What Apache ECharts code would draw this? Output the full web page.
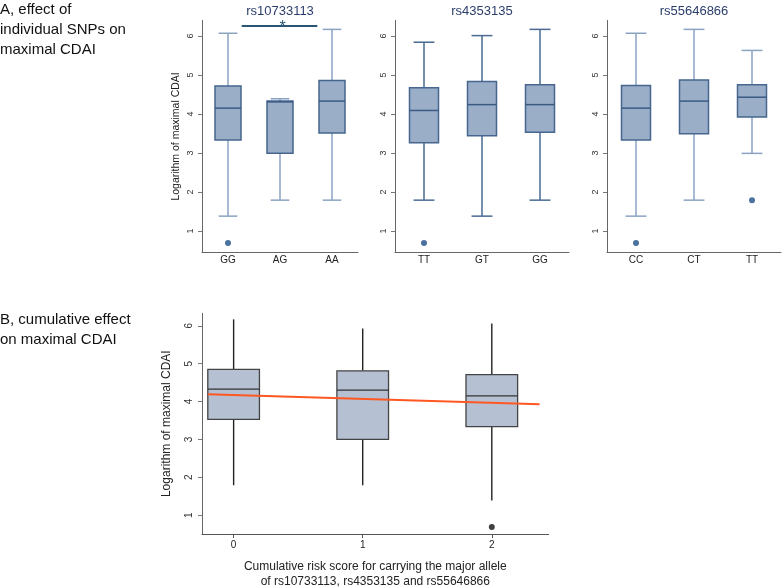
<!DOCTYPE html>
<html><head><meta charset="utf-8">
<script src="https://cdn.jsdelivr.net/npm/echarts@6/dist/echarts.min.js"></script>
<style>html,body{margin:0;padding:0;background:#fff}#c{width:784px;height:587px}</style>
</head><body><div id="c"></div>
<script>
// Panel A data: each box = [low whisker, Q1, median, Q3, high whisker]
const snp1Name = 'rs10733113';
const snp1Cats = ['GG', 'AG', 'AA'];
const snp1Box = [[1.38, 3.33, 4.15, 4.72, 6.07], [1.79, 2.99, 4.31, 4.33, 4.39], [1.79, 3.51, 4.33, 4.86, 6.17]];
const snp1Out = [[0, 0.69]];
const snp2Name = 'rs4353135';
const snp2Cats = ['TT', 'GT', 'GG'];
const snp2Box = [[1.79, 3.26, 4.09, 4.67, 5.84], [1.38, 3.44, 4.24, 4.83, 6.01], [1.79, 3.53, 4.24, 4.75, 6.17]];
const snp2Out = [[0, 0.69]];
const snp3Name = 'rs55646866';
const snp3Cats = ['CC', 'CT', 'TT'];
const snp3Box = [[1.38, 3.33, 4.15, 4.73, 6.07], [1.79, 3.49, 4.33, 4.87, 6.17], [2.99, 3.92, 4.43, 4.75, 5.63]];
const snp3Out = [[0, 0.69], [2, 1.79]];
// Panel B data
const scoreVals = [0, 1, 2];
const scoreBox = [[1.79, 3.53, 4.33, 4.85, 6.17], [1.79, 3.00, 4.30, 4.81, 5.93], [1.39, 3.34, 4.15, 4.71, 6.06]];
const scoreOut = [[2, 0.69]];
const fitLine = [[-0.2, 4.19], [2.37, 3.93]];
const yTicks = [1, 2, 3, 4, 5, 6];
const xTicksB = [0, 1, 2];

const FONT = 'Liberation Sans, Arial, sans-serif';

function boxSeries(gi, xs, rows, st) {
  return {
    type: 'custom', xAxisIndex: gi, yAxisIndex: gi, silent: true, z: 3,
    data: rows.map((r, i) => [xs[i]].concat(r)),
    encode: { x: 0, y: [1, 2, 3, 4, 5] },
    renderItem: function (params, api) {
      const x = api.value(0);
      const p = k => api.coord([x, api.value(k)]);
      const lo = p(1), q1 = p(2), md = p(3), q3 = p(4), hi = p(5);
      const band = api.size([1, 0], [x, api.value(3)])[0];
      const bw = band * st.boxFrac, cw = band * st.capFrac;
      const cx = md[0];
      const wl = { stroke: st.whisker, lineWidth: st.whiskerW };
      const ch = [
        { type: 'line', shape: { x1: cx, y1: q1[1], x2: cx, y2: lo[1] }, style: wl },
        { type: 'line', shape: { x1: cx, y1: q3[1], x2: cx, y2: hi[1] }, style: wl }
      ];
      if (cw > 0) {
        ch.push({ type: 'line', shape: { x1: cx - cw / 2, y1: lo[1], x2: cx + cw / 2, y2: lo[1] }, style: wl });
        ch.push({ type: 'line', shape: { x1: cx - cw / 2, y1: hi[1], x2: cx + cw / 2, y2: hi[1] }, style: wl });
      }
      ch.push({ type: 'rect', shape: { x: cx - bw / 2, y: q3[1], width: bw, height: q1[1] - q3[1] },
        style: { fill: st.fill, stroke: st.border, lineWidth: st.borderW } });
      ch.push({ type: 'line', shape: { x1: cx - bw / 2, y1: md[1], x2: cx + bw / 2, y2: md[1] },
        style: { stroke: st.median, lineWidth: st.medianW } });
      return { type: 'group', children: ch };
    }
  };
}

const stLight = { boxFrac: 0.5, capFrac: 0.36, fill: '#9aaec7', border: '#46668f', borderW: 1.5,
  median: '#3a5a84', medianW: 1.5, whisker: '#8ba3c2', whiskerW: 1.5 };
const stDark = Object.assign({}, stLight, { whisker: '#4a6a93' });
const stB = { boxFrac: 0.4, capFrac: 0, fill: '#b5c0d3', border: '#444', borderW: 1.3,
  median: '#333', medianW: 1.3, whisker: '#222', whiskerW: 1.4 };

function yAx(gi, min, max, name, nameGap, nameSize, labSize, margin) {
  return {
    gridIndex: gi, type: 'value', min: min, max: max,
    name: name, nameLocation: 'middle', nameGap: nameGap,
    nameTextStyle: { fontFamily: FONT, fontSize: nameSize, color: '#222' },
    axisLine: { show: true, onZero: false, lineStyle: { color: '#666', width: 1 } },
    axisTick: { show: true, length: 4, customValues: yTicks, lineStyle: { color: '#777' } },
    axisLabel: { customValues: yTicks, rotate: 90, margin: margin, fontFamily: FONT, fontSize: labSize, color: '#333' },
    splitLine: { show: false }
  };
}
function xCat(gi, cats) {
  return {
    gridIndex: gi, type: 'category', data: cats, boundaryGap: true,
    axisLine: { show: true, onZero: false, lineStyle: { color: '#666', width: 1 } },
    axisTick: { show: false },
    axisLabel: { margin: 3, fontFamily: FONT, fontSize: 10, color: '#222' }
  };
}

const chart = echarts.init(document.getElementById('c'), null, { renderer: 'canvas' });
chart.setOption({
  backgroundColor: '#fff',
  animation: false,
  grid: [
    { left: 202, top: 20.4, width: 156, height: 232, outerBoundsMode: 'none', containLabel: false },
    { left: 395, top: 20.4, width: 174, height: 232, outerBoundsMode: 'none', containLabel: false },
    { left: 607, top: 20.4, width: 174, height: 232, outerBoundsMode: 'none', containLabel: false },
    { left: 202, top: 313.3, width: 346.6, height: 220.8, outerBoundsMode: 'none', containLabel: false }
  ],
  xAxis: [
    xCat(0, snp1Cats), xCat(1, snp2Cats), xCat(2, snp3Cats),
    {
      gridIndex: 3, type: 'value', min: -0.245, max: 2.44,
      name: 'Cumulative risk score for carrying the major allele\nof rs10733113, rs4353135 and rs55646866',
      nameLocation: 'middle', nameGap: 25,
      nameTextStyle: { fontFamily: FONT, fontSize: 12, color: '#222', lineHeight: 15 },
      axisLine: { show: true, onZero: false, lineStyle: { color: '#555', width: 1 } },
      axisTick: { show: true, length: 4, customValues: xTicksB, lineStyle: { color: '#555' } },
      axisLabel: { customValues: xTicksB, margin: 6, fontFamily: FONT, fontSize: 10, color: '#222' },
      splitLine: { show: false }
    }
  ],
  yAxis: [
    yAx(0, 0.45, 6.4, 'Logarithm of maximal CDAI', 20, 10.5, 9, 7),
    yAx(1, 0.45, 6.4, '', 20, 10, 9, 7),
    yAx(2, 0.45, 6.4, '', 20, 10, 9, 7),
    yAx(3, 0.5, 6.33, 'Logarithm of maximal CDAI', 29, 12, 10, 8)
  ],
  series: [
    boxSeries(0, [0, 1, 2], snp1Box, stLight),
    boxSeries(1, [0, 1, 2], snp2Box, stDark),
    boxSeries(2, [0, 1, 2], snp3Box, stLight),
    boxSeries(3, scoreVals, scoreBox, stB),
    { type: 'scatter', xAxisIndex: 0, yAxisIndex: 0, data: snp1Out, symbolSize: 6, itemStyle: { color: '#1d4f86' }, silent: true },
    { type: 'scatter', xAxisIndex: 1, yAxisIndex: 1, data: snp2Out, symbolSize: 6, itemStyle: { color: '#1d4f86' }, silent: true },
    { type: 'scatter', xAxisIndex: 2, yAxisIndex: 2, data: snp3Out, symbolSize: 6, itemStyle: { color: '#1d4f86' }, silent: true },
    { type: 'scatter', xAxisIndex: 3, yAxisIndex: 3, data: scoreOut, symbolSize: 6, itemStyle: { color: '#111' }, silent: true },
    { type: 'line', xAxisIndex: 3, yAxisIndex: 3, data: fitLine, showSymbol: false, symbol: 'none', z: 5,
      lineStyle: { color: '#ff5722', width: 2 }, silent: true }
  ],
  graphic: [
    { type: 'text', left: 0, top: 0, style: { text: 'A, effect of\nindividual SNPs on\nmaximal CDAI', font: '15px ' + FONT, lineHeight: 20, fill: '#111' } },
    { type: 'text', left: 0, top: 310, style: { text: 'B, cumulative effect\non maximal CDAI', font: '15px ' + FONT, lineHeight: 20, fill: '#111' } },
    { type: 'text', x: 280, y: 11, style: { text: snp1Name, font: '13px ' + FONT, fill: '#2b3d6b', textAlign: 'center', textVerticalAlign: 'middle', align: 'center', verticalAlign: 'middle' } },
    { type: 'text', x: 482, y: 11, style: { text: snp2Name, font: '13px ' + FONT, fill: '#2b3d6b', textAlign: 'center', textVerticalAlign: 'middle', align: 'center', verticalAlign: 'middle' } },
    { type: 'text', x: 694, y: 11, style: { text: snp3Name, font: '13px ' + FONT, fill: '#2b3d6b', textAlign: 'center', textVerticalAlign: 'middle', align: 'center', verticalAlign: 'middle' } },
    { type: 'line', shape: { x1: 241.7, y1: 26, x2: 317.3, y2: 26 }, style: { stroke: '#2a5674', lineWidth: 2 } },
    { type: 'text', x: 282.7, y: 28, style: { text: '*', font: '16px ' + FONT, fill: '#2a5674', textAlign: 'center', textVerticalAlign: 'middle', align: 'center', verticalAlign: 'middle' } }
  ]
});
</script>
</body></html>
